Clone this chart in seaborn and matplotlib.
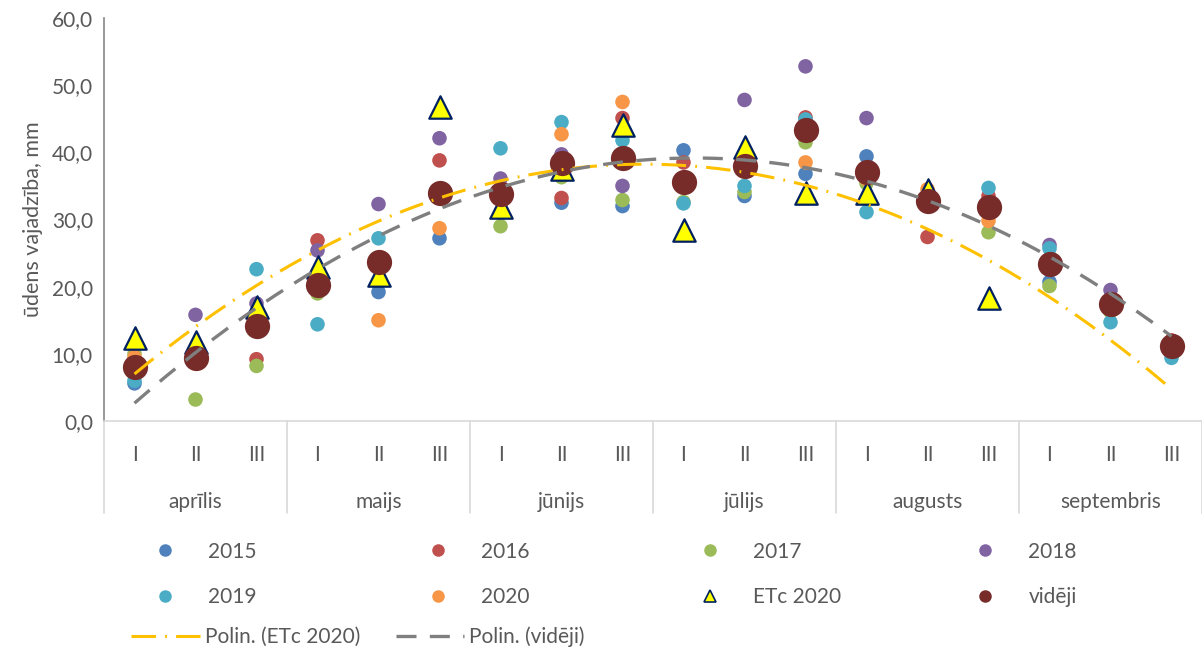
import matplotlib
matplotlib.use("Agg")
import matplotlib.pyplot as plt
import matplotlib.transforms as mtransforms
from matplotlib.lines import Line2D
from matplotlib.ticker import FuncFormatter
import seaborn as sns
import numpy as np
import pandas as pd

decades = ["I", "II", "III"] * 6
months  = ["aprīlis", "maijs", "jūnijs", "jūlijs", "augusts", "septembris"]

y2015   = [5.6, 9.5, 14.8, 19.3, 19.2, 27.2, 31.0, 32.5, 32.0, 40.3, 33.5, 36.8, 39.4, 33.0, 32.0, 20.7, 17.0, 11.0]
y2016   = [8.7, 9.0, 9.2, 26.9, 23.5, 38.8, 33.0, 33.2, 45.1, 38.5, 38.0, 45.2, 36.0, 27.4, 33.5, 23.0, 17.5, 12.0]
y2017   = [10.0, 3.2, 8.2, 19.0, 23.5, 34.0, 29.0, 36.3, 32.9, 32.6, 34.1, 41.5, 35.4, 33.0, 28.1, 20.1, 16.3, 11.0]
y2018   = [8.0, 15.8, 17.5, 25.4, 32.3, 42.1, 36.1, 39.7, 35.0, 36.0, 47.8, 52.8, 45.1, 33.0, 32.0, 26.2, 19.5, 11.5]
y2019   = [6.0, 10.0, 22.6, 14.4, 27.2, 34.0, 40.6, 44.5, 41.8, 32.4, 35.0, 44.9, 31.1, 33.0, 34.7, 25.7, 14.7, 9.4]
y2020   = [9.5, 9.2, 13.5, 20.5, 15.0, 28.7, 33.0, 42.7, 47.5, 36.0, 38.0, 38.5, 36.0, 34.5, 29.8, 23.0, 17.0, 11.0]
etc2020 = [12.3, 11.8, 17.0, 23.0, 21.8, 46.8, 31.8, 37.5, 44.0, 28.4, 40.8, 34.0, 34.0, 34.4, 18.3, np.nan, np.nan, np.nan]
videji  = [8.0, 9.4, 14.2, 20.2, 23.7, 33.9, 33.8, 38.4, 39.2, 35.6, 37.9, 43.3, 37.1, 32.7, 31.8, 23.4, 17.4, 11.2]

YEARS  = ["2015", "2016", "2017", "2018", "2019", "2020"]
COLORS = ["#4F81BD", "#C0504D", "#9BBB59", "#8064A2", "#4BACC6", "#F79646"]
TXT    = "#595959"

sns.set_theme(style="white")
plt.rcParams["font.family"] = ["Lato", "DejaVu Sans"]
plt.rcParams["font.size"] = 15

x = np.arange(len(decades))
df = pd.DataFrame({"x": x, "2015": y2015, "2016": y2016, "2017": y2017,
                   "2018": y2018, "2019": y2019, "2020": y2020,
                   "etc": etc2020, "avg": videji})
long = df.melt(id_vars="x", value_vars=YEARS, var_name="year", value_name="v")

fig = plt.figure(figsize=(12.02, 6.51), dpi=100)
ax = fig.add_axes([104 / 1202, 1 - 421 / 651, 1 - 104 / 1202, (421 - 18) / 651])

sns.scatterplot(data=long, x="x", y="v", hue="year", palette=COLORS,
                s=110, linewidth=0, ax=ax, legend=False, zorder=3)
sns.scatterplot(data=df, x="x", y="etc", marker="^", s=260, color="#FFFF00",
                edgecolor="#002060", linewidth=1.6, ax=ax, legend=False, zorder=4)
sns.scatterplot(data=df, x="x", y="avg", s=330, color="#772C2A",
                linewidth=0, ax=ax, legend=False, zorder=5)

# polynomial (2nd order) trendlines
xf = np.linspace(0, 17, 200)
m = ~np.isnan(df["etc"].values)
p_etc = np.polyfit(x[m], df["etc"].values[m], 2)
p_avg = np.polyfit(x, df["avg"].values, 2)
trend = pd.DataFrame({"x": xf, "etc": np.polyval(p_etc, xf), "avg": np.polyval(p_avg, xf)})
sns.lineplot(data=trend, x="x", y="etc", color="#FFC000", lw=2.2,
             linestyle=(0, (8, 3, 0.6, 3)), ax=ax, zorder=6)
sns.lineplot(data=trend, x="x", y="avg", color="#7F7F7F", lw=2.4,
             linestyle=(0, (6, 4)), ax=ax, zorder=6)

ax.set_xlim(-0.5, 17.5)
ax.set_ylim(0, 60)
ax.set_yticks(np.arange(0, 61, 10))
ax.yaxis.set_major_formatter(FuncFormatter(lambda v, _: f"{v:.1f}".replace(".", ",")))
ax.set_xticks(x)
ax.set_xticklabels(decades)
ax.tick_params(axis="both", length=0, colors=TXT, labelsize=15)
ax.tick_params(axis="x", pad=17)
ax.tick_params(axis="y", pad=8)
ax.set_xlabel("")
ax.set_ylabel("ūdens vajadzība, mm", color=TXT, fontsize=15.5, labelpad=6)
for side in ["top", "right"]:
    ax.spines[side].set_visible(False)
ax.spines["left"].set_color("#868686")
ax.spines["bottom"].set_color("#D9D9D9")
ax.spines["left"].set_linewidth(1.2)
ax.spines["bottom"].set_linewidth(1.2)

# month groups under the decades
trans = mtransforms.blended_transform_factory(ax.transData, ax.transAxes)
for i, name in enumerate(months):
    ax.text(3 * i + 1, -81 / 403, name, transform=trans, ha="center",
            va="center", color=TXT, fontsize=15)
for b in np.arange(-0.5, 18, 3):
    ax.plot([b, b], [0, -92 / 403], transform=trans, color="#D9D9D9",
            lw=1.2, clip_on=False)

# legend: four equal-width columns, two rows each
handles = [Line2D([], [], ls="", marker="o", ms=8, mfc=c, mec=c) for c in COLORS]
handles += [Line2D([], [], ls="", marker="^", ms=9, mfc="#FFFF00", mec="#002060", mew=1.2),
            Line2D([], [], ls="", marker="o", ms=8, mfc="#772C2A", mec="#772C2A")]
labels = YEARS + ["ETc 2020", "vidēji"]
columns = [(0, 4), (1, 5), (2, 6), (3, 7)]
col_x = [123, 396, 668, 943]
for (a, b), cx in zip(columns, col_x):
    fig.legend([handles[a], handles[b]], [labels[a], labels[b]],
               loc="upper left", bbox_to_anchor=(cx / 1202, 1 - 523 / 651),
               frameon=False, fontsize=15, labelcolor=TXT, handlelength=2.2,
               handletextpad=1.0, labelspacing=1.23)

h2 = [Line2D([], [], color="#FFC000", lw=2.2, linestyle=(0, (8, 3, 0.6, 3))),
      Line2D([], [], color="#7F7F7F", lw=2.4, linestyle=(0, (6, 4)))]
fig.legend(h2, ["Polin. (ETc 2020)", "Polin. (vidēji)"], ncol=2, loc="upper left",
           bbox_to_anchor=(112 / 1202, 1 - 608 / 651), frameon=False, fontsize=15,
           labelcolor=TXT, handlelength=3.3, handletextpad=0.25, columnspacing=1.7)

fig.savefig("out.png", dpi=100)
plt.close("all")
